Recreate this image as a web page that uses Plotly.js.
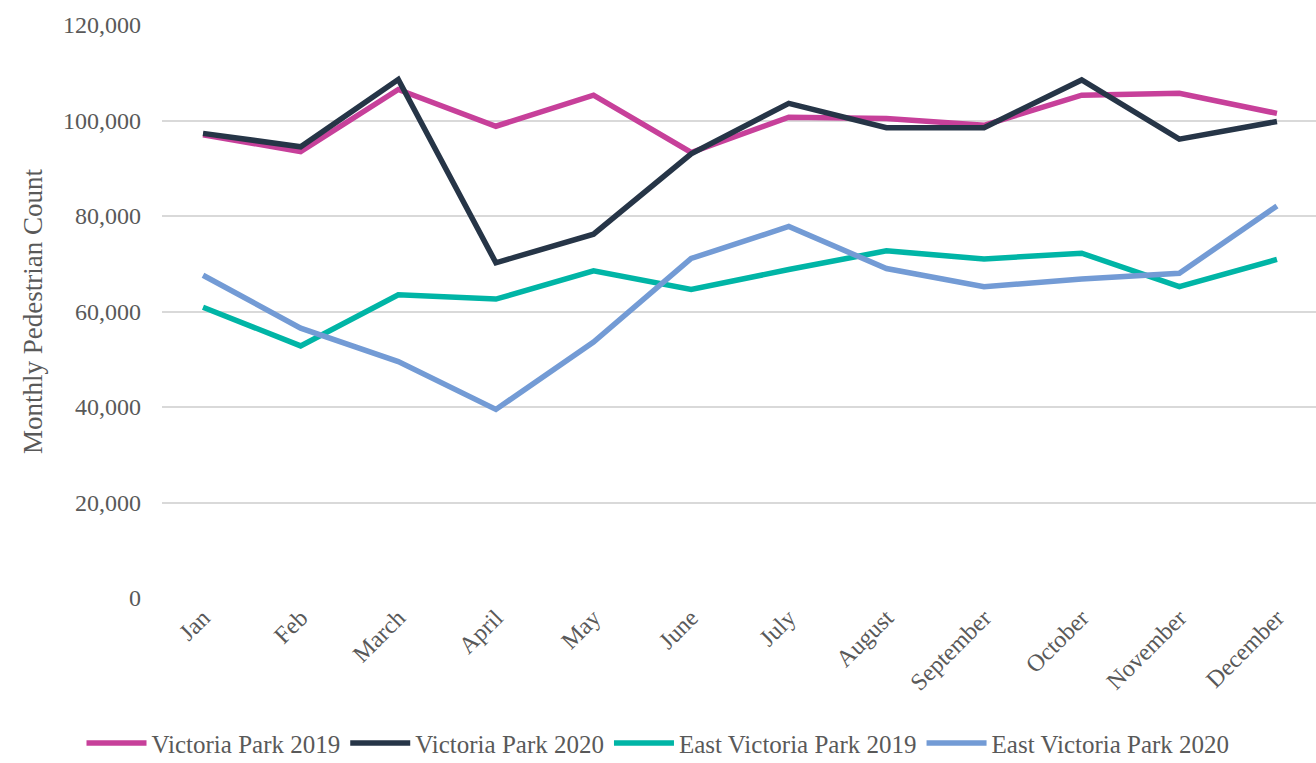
<!DOCTYPE html>
<html>
<head>
<meta charset="utf-8">
<script src="https://cdn.plot.ly/plotly-3.0.1.min.js"></script>
<style>html,body{margin:0;padding:0;background:#fff;}#chart{width:1316px;height:763px;}</style>
</head>
<body>
<div id="chart"></div>
<script>
const months = ["Jan","Feb","March","April","May","June","July","August","September","October","November","December"];
const vp2019 = [97000, 93500, 106500, 98800, 105300, 93300, 100700, 100400, 99000, 105300, 105700, 101500];
const vp2020 = [97300, 94500, 108600, 70200, 76200, 93000, 103600, 98500, 98500, 108500, 96100, 99800];
const evp2019 = [60900, 52800, 63500, 62600, 68500, 64600, 68800, 72700, 71000, 72200, 65200, 70900];
const evp2020 = [67600, 56500, 49500, 39500, 53600, 71100, 77800, 69000, 65200, 66800, 68000, 82100];
const names = ["Victoria Park 2019","Victoria Park 2020","East Victoria Park 2019","East Victoria Park 2020"];
const colors = ["#C7409A","#263547","#00B5A6","#739BD5"];
const series = [vp2019, vp2020, evp2019, evp2020];

const traces = series.map((s,i)=>({
  x: months, y: s, name: names[i], type:'scatter', mode:'lines',
  line:{color:colors[i], width:5.5}
}));
const fontFam = '"Liberation Serif", "Times New Roman", serif';
const layout = {
  width:1316, height:763,
  margin:{l:162, r:0, t:25, b:165},
  paper_bgcolor:'#fff', plot_bgcolor:'#fff',
  font:{family:fontFam, color:'#595959', size:22},
  xaxis:{
    type:'category', range:[-0.42, 11.4], showgrid:false, zeroline:false, showline:false,
    tickangle:-45, tickfont:{size:24, family:fontFam, color:'#595959'}, ticks:'', ticklen:0
  },
  yaxis:{
    range:[0,120000], dtick:20000, tickformat:',d', showgrid:true, gridcolor:'#D9D9D9', gridwidth:2,
    zeroline:false, showline:false, ticks:'', ticklabelstandoff:20,
    tickfont:{size:24, family:fontFam, color:'#595959'},
    title:{text:'Monthly Pedestrian Count', font:{size:27, family:fontFam, color:'#595959'}, standoff:12}
  },
  showlegend:true,
  legend:{orientation:'h', xref:'container', yref:'container', x:0.5, xanchor:'center', y:0.026, yanchor:'middle',
    font:{size:25, family:fontFam, color:'#595959'}, itemwidth:60, tracegroupgap:0}
};
Plotly.newPlot('chart', traces, layout, {displayModeBar:false, staticPlot:true});
</script>
</body>
</html>
